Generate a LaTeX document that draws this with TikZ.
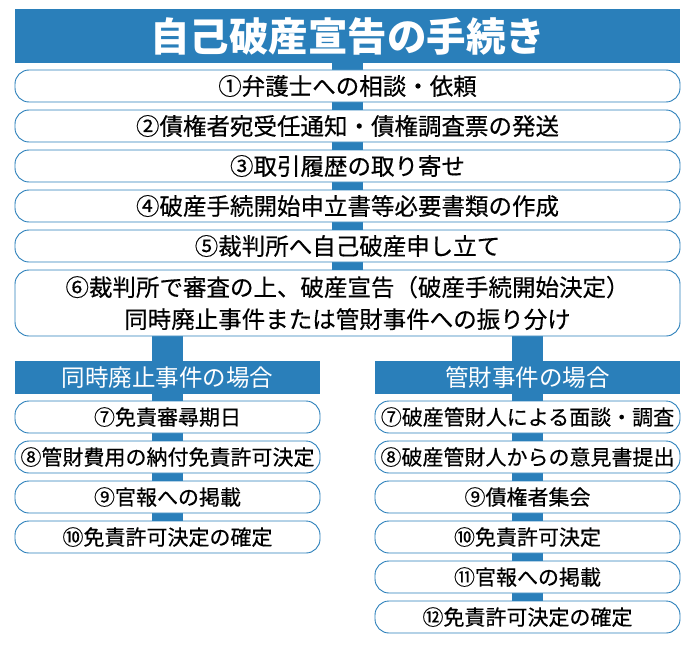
\documentclass[tikz,border=0pt]{standalone}
\usepackage{fontspec}
\setmainfont{Noto Sans CJK JP}
\newfontfamily\boxfont[FakeBold=0.4]{Noto Sans CJK JP}
\usetikzlibrary{positioning,backgrounds}
\definecolor{procblue}{HTML}{2A7FBA}
\begin{document}
\begin{tikzpicture}[x=1pt, y=-1pt, node distance=8pt, outer sep=0pt,
    flowbox/.style={draw=procblue, line width=0.9pt, fill=white, rounded corners=14pt, minimum height=32pt, inner sep=0pt},
    topbox/.style={flowbox, minimum width=665pt, text height=20.7pt, text depth=2.8pt, font=\boxfont\fontsize{23.5}{28}\selectfont},
    subbox/.style={flowbox, minimum width=305pt, text height=18.5pt, text depth=2.5pt, font=\boxfont\fontsize{21}{25}\selectfont},
    headbar/.style={fill=procblue, text=white, minimum width=305pt, minimum height=33pt, inner sep=0pt, text height=20.7pt, text depth=2.8pt, font=\fontsize{23.5}{28}\selectfont},
    link/.style={procblue, line width=31pt}]
  \useasboundingbox (0,0) rectangle (700,650);
  \node[fill=procblue, text=white, minimum width=665pt, minimum height=54pt, inner sep=0pt, text height=34.8pt, text depth=4.7pt, font=\fontsize{39.5}{42}\selectfont\bfseries] (title) at (347.5,36) {自己破産宣告の手続き};
  \node[topbox, below=7pt of title] (t1) {①弁護士への相談・依頼};
  \node[topbox, below=of t1] (t2) {②債権者宛受任通知・債権調査票の発送};
  \node[topbox, below=of t2] (t3) {③取引履歴の取り寄せ};
  \node[topbox, below=of t3] (t4) {④破産手続開始申立書等必要書類の作成};
  \node[topbox, below=of t4] (t5) {⑤裁判所へ自己破産申し立て};
  \node[topbox, below=of t5, minimum height=66pt, align=center, text height=, text depth=, font=\boxfont\fontsize{23.5}{32}\selectfont] (t6) {⑥裁判所で審査の上、破産宣告（破産手続開始決定）\\同時廃止事件または管財事件への振り分け};

  % 同時廃止
  \node[headbar, anchor=north west] (lh) at ([yshift=-25pt]t6.south west) {同時廃止事件の場合};
  \node[subbox, below=7pt of lh] (l7) {⑦免責審尋期日};
  \node[subbox, below=of l7] (l8) {⑧管財費用の納付免責許可決定};
  \node[subbox, below=of l8] (l9) {⑨官報への掲載};
  \node[subbox, below=of l9] (l10) {⑩免責許可決定の確定};

  % 管財
  \node[headbar, anchor=north east] (rh) at ([yshift=-25pt]t6.south east) {管財事件の場合};
  \node[subbox, below=7pt of rh] (r7) {⑦破産管財人による面談・調査};
  \node[subbox, below=of r7] (r8) {⑧破産管財人からの意見書提出};
  \node[subbox, below=of r8] (r9) {⑨債権者集会};
  \node[subbox, below=of r9] (r10) {⑩免責許可決定};
  \node[subbox, below=of r10] (r11) {⑪官報への掲載};
  \node[subbox, below=of r11] (r12) {⑫免責許可決定の確定};

  \begin{scope}[on background layer]
    \draw[link] (title) -- (t6);
    \draw[link] (lh |- t6) -- (l10);
    \draw[link] (rh |- t6) -- (r12);
  \end{scope}
\end{tikzpicture}
\end{document}
